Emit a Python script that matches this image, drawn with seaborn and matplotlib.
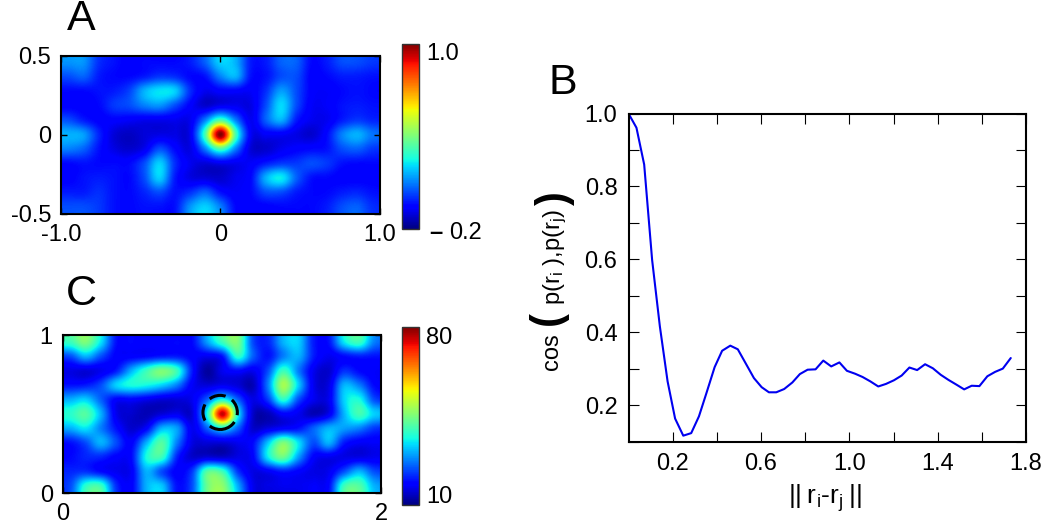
import numpy as np
import matplotlib
matplotlib.use('Agg')
import matplotlib.pyplot as plt
from matplotlib.patches import Circle
import seaborn as sns

# curve of panel B
dist = [0, .036, .071, .107, .142, .177, .211, .248, .284, .319,
        .353, .390, .424, .461, .495, .532, .568, .603, .636, .669,
        .705, .742, .776, .811, .847, .882, .918, .955, .989, 1.026,
        1.060, 1.095, 1.131, 1.166, 1.202, 1.237, 1.272, 1.307, 1.343, 1.378,
        1.414, 1.449, 1.485, 1.520, 1.554, 1.589, 1.625, 1.660, 1.695, 1.731]
cos_sim = [1.0, .961, .860, .598, .416, .265, .163, .116, .123, .169,
           .233, .304, .349, .363, .353, .313, .274, .249, .235, .235,
           .244, .262, .285, .297, .298, .322, .306, .317, .294, .286,
           .277, .265, .251, .258, .268, .281, .303, .296, .312, .301,
           .283, .269, .256, .243, .253, .252, .279, .291, .300, .329]

# colour levels (% of the jet scale)
levels_a = [
    [27, 27, 17, 14, 12, 13, 13, 13, 15, 22, 33, 30, 15, 15, 22, 22, 13, 15, 20, 20, 18],
    [20, 22, 15, 13, 13, 15, 18, 17, 13, 14, 25, 30, 14, 14, 20, 20, 12, 13, 15, 15, 14],
    [13, 13, 14, 15, 19, 30, 35, 33, 17, 10, 12, 12, 11, 17, 28, 20, 12, 11, 13, 14, 13],
    [12, 12, 13, 18, 20, 25, 27, 20, 12, 7, 10, 10, 9, 20, 34, 20, 11, 11, 14, 15, 14],
    [20, 15, 12, 12, 11, 10, 10, 10, 10, 25, 44, 25, 10, 22, 30, 15, 10, 10, 15, 18, 16],
    [30, 28, 16, 8, 6, 8, 9, 9, 10, 44, 100, 44, 11, 11, 11, 9, 7, 13, 25, 30, 24],
    [25, 22, 14, 9, 7, 10, 20, 13, 9, 25, 44, 25, 8, 7, 10, 12, 13, 14, 20, 22, 18],
    [13, 14, 13, 13, 13, 20, 33, 17, 10, 8, 10, 10, 11, 15, 18, 18, 20, 18, 14, 13, 13],
    [12, 14, 15, 14, 13, 20, 33, 15, 9, 8, 7, 10, 13, 30, 36, 22, 14, 13, 12, 12, 12],
    [15, 15, 17, 14, 13, 16, 20, 14, 17, 22, 14, 11, 13, 20, 20, 15, 13, 13, 15, 16, 14],
    [20, 20, 18, 14, 13, 14, 14, 14, 27, 33, 25, 13, 12, 12, 13, 13, 13, 15, 20, 22, 17],
]
levels_c = [
    [42, 50, 35, 14, 13, 12, 12, 13, 13, 28, 42, 50, 20, 16, 30, 33, 15, 14, 35, 42, 25],
    [20, 30, 20, 12, 12, 13, 15, 15, 12, 10, 14, 40, 22, 14, 25, 30, 15, 10, 13, 15, 14],
    [9, 8, 10, 15, 30, 42, 50, 42, 15, 3, 10, 13, 10, 20, 42, 25, 10, 7, 17, 13, 11],
    [14, 15, 20, 33, 38, 37, 33, 25, 11, 8, 10, 8, 5, 25, 55, 33, 10, 9, 30, 25, 13],
    [30, 33, 22, 12, 12, 10, 8, 8, 10, 22, 38, 22, 9, 18, 40, 20, 10, 10, 33, 38, 20],
    [40, 45, 30, 10, 7, 5, 8, 10, 8, 38, 94, 38, 7, 5, 12, 10, 5, 10, 30, 43, 33],
    [30, 35, 25, 14, 7, 12, 30, 28, 10, 22, 36, 22, 7, 9, 12, 14, 22, 30, 28, 25, 18],
    [14, 20, 30, 20, 12, 30, 45, 25, 9, 8, 8, 10, 13, 32, 50, 35, 20, 30, 15, 11, 11],
    [13, 16, 16, 12, 13, 38, 42, 16, 7, 8, 7, 9, 12, 36, 48, 28, 12, 10, 9, 9, 10],
    [16, 17, 13, 10, 11, 30, 20, 12, 18, 45, 42, 18, 9, 11, 15, 12, 9, 10, 20, 30, 20],
    [20, 40, 42, 17, 12, 30, 32, 14, 20, 48, 52, 30, 10, 9, 10, 10, 11, 13, 42, 45, 30],
]
range_a = (-0.223, 1.057)
range_c = (5.6, 83.9)

W, H = 1051, 531


def px_axes(fig, left, top, right, bottom):
    return fig.add_axes([left / W, 1 - bottom / H, (right - left) / W, (bottom - top) / H])


def draw_map(ax, cax, levels, vrange, extent, xticks, xlabels, yticks, ylabels, cticks, clabels):
    field = vrange[0] + np.array(levels) / 100 * (vrange[1] - vrange[0])
    im = ax.imshow(field, cmap='jet', vmin=vrange[0], vmax=vrange[1], extent=extent,
                   aspect='auto', interpolation='catrom')
    ax.set_xticks(xticks, xlabels)
    ax.set_yticks(yticks, ylabels)
    ax.tick_params(direction='in', top=True, right=True, length=4, width=1, pad=7)
    for s in ax.spines.values():
        s.set_linewidth(1.5)
    cb = fig.colorbar(im, cax=cax, ticks=cticks)
    cb.ax.set_yticklabels(clabels)
    cb.ax.tick_params(direction='in', length=5, width=0.8, pad=5)
    cb.outline.set_linewidth(1)
    cb.outline.set_edgecolor('#333333')


sns.set_style('ticks', {'text.color': 'black', 'xtick.color': 'black', 'ytick.color': 'black',
                        'axes.edgecolor': 'black', 'axes.labelcolor': 'black'})
plt.rcParams['font.family'] = ['Liberation Sans', 'DejaVu Sans']
plt.rcParams['font.size'] = 17
plt.rcParams['mathtext.default'] = 'regular'

fig = plt.figure(figsize=(W / 100, H / 100), dpi=100)

ax_a = px_axes(fig, 61, 55.5, 379.5, 214)
cax_a = px_axes(fig, 402, 43.5, 419, 229)
draw_map(ax_a, cax_a, levels_a, range_a, (-1, 1, -.5, .5),
         [-1, 0, 1], ['-1.0', '0', '1.0'], [-.5, 0, .5], ['-0.5', '0', '0.5'],
         [-0.2, 1.0], ['', '1.0'])

ax_c = px_axes(fig, 62.5, 335, 381, 493)
cax_c = px_axes(fig, 402, 327, 419, 505)
draw_map(ax_c, cax_c, levels_c, range_c, (0, 2, 0, 1),
         [0, 2], ['0', '2'], [0, 1], ['0', '1'],
         [10, 80], ['10', '80'])
ax_c.add_patch(Circle((0.99, 0.51), 0.108, fill=False, ec='black', lw=2.2,
                      ls=(0, (5.5, 2.4))))

ax_b = px_axes(fig, 628.5, 113.5, 1026, 441.5)
sns.lineplot(x=dist, y=cos_sim, color='#0000f0', lw=1.5, errorbar=None, ax=ax_b)
ax_b.set_xlim(0, 1.8)
ax_b.set_ylim(0.1, 1.0)
ax_b.set_xticks(np.arange(2, 19, 2) / 10,
                ['0.2', '', '0.6', '', '1.0', '', '1.4', '', '1.8'])
ax_b.set_yticks(np.arange(1, 11) / 10,
                ['', '0.2', '', '0.4', '', '0.6', '', '0.8', '', '1.0'])
ax_b.tick_params(direction='in', top=True, right=True, length=7, width=0.8, pad=8)
for s in ax_b.spines.values():
    s.set_linewidth(1.5)

# labels, placed by figure pixel
def fig_text(x, y, s, **kw):
    fig.text(x / W, 1 - y / H, s, ha='center', va='center', **kw)


fig_text(81, 19, 'A', fontsize=31)
fig_text(81, 294, 'C', fontsize=31)
fig_text(563, 83, 'B', fontsize=31)
fig_text(436, 232, '\u2013', fontsize=17, fontweight='bold')
fig_text(465, 233, '0.2')
fig_text(825, 498, '||\u2009r$_{i}$-r$_{j}$\u2009||', fontsize=19)
fig_text(552, 352, 'cos', rotation=90)
fig_text(548, 318, '(', fontsize=30, rotation=90, fontweight='bold')
fig_text(555, 257, 'p(r$_{i}$ ),p(r$_{j}$)', rotation=90)
fig_text(555, 198, ')', fontsize=30, rotation=90, fontweight='bold')

fig.savefig('out.png', dpi=100)
